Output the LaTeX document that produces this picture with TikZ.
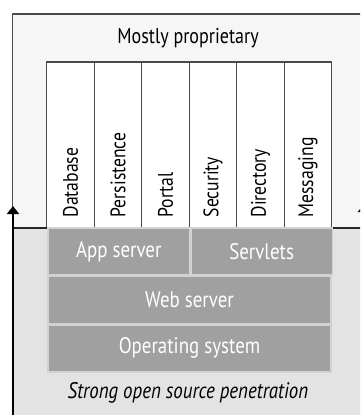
\documentclass[tikz,border=0pt]{standalone}
\usepackage{fontspec}
\setmainfont{PT Sans}[FakeStretch=0.84]
\usepackage{xcolor}
\usetikzlibrary{positioning,arrows.meta}
\definecolor{topbg}{HTML}{F6F6F6}
\definecolor{botbg}{HTML}{E3E3E3}
\definecolor{framegray}{HTML}{4A4A4A}
\definecolor{layergray}{HTML}{A0A0A0}
\definecolor{sepgray}{HTML}{D2D2D2}

\begin{document}
\begin{tikzpicture}[x=1pt, y=-1pt, font=\fontsize{22.5}{24}\selectfont,
  colbox/.style={draw=framegray, line width=1.1pt, fill=white, minimum width=47.5pt, minimum height=166pt, inner sep=0pt},
  coltext/.style={rotate=90, anchor=west, font=\fontsize{21}{23}\selectfont, inner sep=0pt},
  layerbox/.style={draw=sepgray, line width=1.4pt, fill=layergray, text=white, minimum height=47pt, inner sep=0pt}]
  \useasboundingbox (0,0) rectangle (360,415);
  \clip (0,0) rectangle (360,415);

  % Backgrounds
  \fill[topbg] (13,14) rectangle (365,228);
  \fill[botbg] (13,228) rectangle (365,418);
  \draw[framegray, line width=1.3pt] (12.5,228) -- (12.5,14) -- (365,14);

  % Proprietary columns
  \node[font=\fontsize{21.5}{23}\selectfont] (prop) at (188,38) {Mostly proprietary};
  \foreach \i/\name/\lbl in {0/db/Database, 1/pers/Persistence, 2/portal/Portal,
                             3/sec/Security, 4/dir/Directory, 5/msg/Messaging} {
    \node[colbox] (\name) at (70.5+47.5*\i, 145) {};
    \node[coltext] (\name txt) at ([yshift=11pt]\name.south) {\lbl};
  }
  \draw[black!85, line width=1.3pt] (13,228) -- (365,228);

  % Open source layers
  \node[layerbox, minimum width=141.5pt] (app) at (118.75,251.5) {App server};
  \node[layerbox, minimum width=141.5pt, right=0pt of app] (servlets) {Servlets};
  \node[layerbox, minimum width=283pt, anchor=north west] (web) at (app.south west) {Web server};
  \node[layerbox, minimum width=283pt, anchor=north west] (os) at (web.south west) {Operating system};
  \node[font=\fontsize{22.5}{24}\selectfont\itshape] (open) at (188,393) {Strong open source penetration};

  % Arrows
  \coordinate (upfoot) at (13,418);
  \coordinate (uptip) at (13,206);
  \draw[line width=2pt, -{Triangle[width=12pt,length=8pt]}] (upfoot) -- (uptip);
  \coordinate (rfoot) at (364,418);
  \coordinate (rtip) at (364,204);
  \draw[line width=2pt, -{Triangle[width=12pt,length=8pt]}] (rfoot) -- (rtip);
\end{tikzpicture}
\end{document}
